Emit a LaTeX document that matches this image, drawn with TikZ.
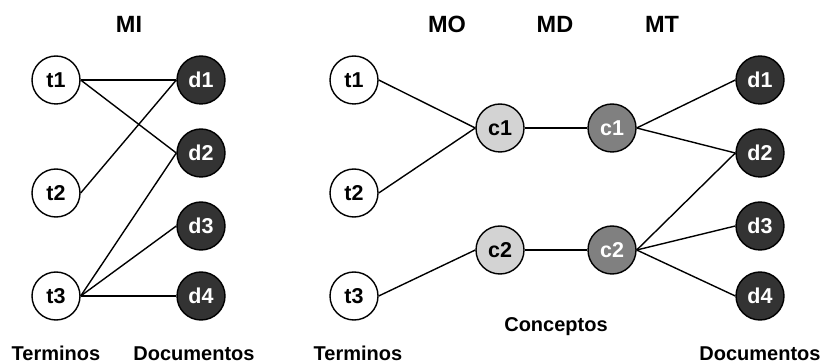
\documentclass[tikz,border=0pt]{standalone}
\usepackage{fontspec}
\setmainfont{Liberation Sans}
\begin{document}
\begin{tikzpicture}[x=1pt,y=-1pt,
  every node/.style={font=\fontsize{20}{24}\selectfont\bfseries},
  term/.style={circle,draw=black,line width=1.4pt,fill=white,minimum size=48pt,inner sep=0pt,
    font=\fontsize{21.5}{24}\selectfont\bfseries},
  doc/.style={term,fill=docgray,text=white},
  cono/.style={term,fill=lightgray2},
  cond/.style={term,fill=midgray,text=white},
  link/.style={line width=1.4pt},
  title/.style={anchor=center,font=\fontsize{23.5}{26}\selectfont\bfseries},
  caption/.style={anchor=base,inner sep=0pt}]
\definecolor{docgray}{HTML}{333333}
\definecolor{lightgray2}{HTML}{D3D3D3}
\definecolor{midgray}{HTML}{808080}
\useasboundingbox (0,0) rectangle (822,363);

% Left model: terms linked directly to documents
\node[title] (mi) at (129,24) {MI};
\node[term] (lt1) at (56,80) {t1};
\node[term] (lt2) at (56,193) {t2};
\node[term] (lt3) at (56,296) {t3};
\node[doc] (ld1) at (201,80) {d1};
\node[doc] (ld2) at (201,153) {d2};
\node[doc] (ld3) at (201,226) {d3};
\node[doc] (ld4) at (201,296) {d4};
\draw[link] (lt1.east) -- (ld1.west);
\draw[link] (lt1.east) -- (ld2.west);
\draw[link] (lt2.east) -- (ld1.west);
\draw[link] (lt3.east) -- (ld2.west);
\draw[link] (lt3.east) -- (ld3.west);
\draw[link] (lt3.east) -- (ld4.west);
\node[caption] (lterm) at (56,360) {Terminos};
\node[caption] (ldoc) at (194,360) {Documentos};

% Right model: terms -> concepts -> documents
\node[title] (mo) at (447,24) {MO};
\node[title] (md) at (555,24) {MD};
\node[title] (mt) at (662,24) {MT};
\node[term] (rt1) at (354,80) {t1};
\node[term] (rt2) at (354,193) {t2};
\node[term] (rt3) at (354,296) {t3};
\node[cono] (oc1) at (500,128) {c1};
\node[cono] (oc2) at (500,250) {c2};
\node[cond] (dc1) at (612,128) {c1};
\node[cond] (dc2) at (612,250) {c2};
\node[doc] (rd1) at (760,80) {d1};
\node[doc] (rd2) at (760,153) {d2};
\node[doc] (rd3) at (760,226) {d3};
\node[doc] (rd4) at (760,296) {d4};
\draw[link] (rt1.east) -- (oc1.west);
\draw[link] (rt2.east) -- (oc1.west);
\draw[link] (rt3.east) -- (oc2.west);
\draw[link] (oc1.east) -- (dc1.west);
\draw[link] (oc2.east) -- (dc2.west);
\draw[link] (dc1.east) -- (rd1.west);
\draw[link] (dc1.east) -- (rd2.west);
\draw[link] (dc2.east) -- (rd2.west);
\draw[link] (dc2.east) -- (rd3.west);
\draw[link] (dc2.east) -- (rd4.west);
\node[caption] (conc) at (556,331) {Conceptos};
\node[caption] (rterm) at (358,360) {Terminos};
\node[caption] (rdoc) at (760,360) {Documentos};
\end{tikzpicture}
\end{document}
